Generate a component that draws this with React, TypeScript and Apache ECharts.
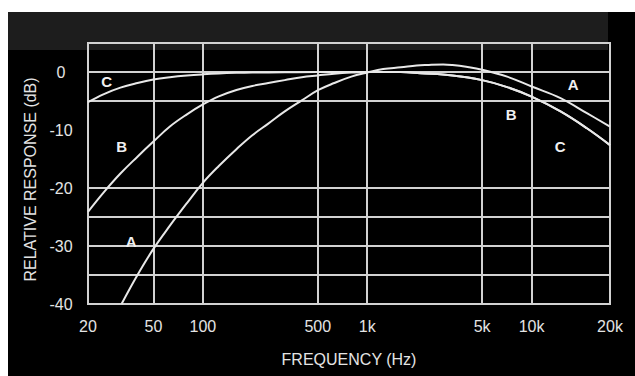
import React, { useEffect, useRef } from "react";
import * as echarts from "echarts";

// Tick positions (Hz) and labels as drawn. The drawing's right edge is labelled "20k",
// but it sits ~0.48 decade beyond 10k on the drawn scale.
const xTickHz = [20, 50, 100, 500, 1000, 5000, 10000, 30000];
const xTickLabels = ["20", "50", "100", "500", "1k", "5k", "10k", "20k"];
const yGridDb = [5, 0, -5, -20, -25, -30, -35, -40];
const yLabelDb = [0, -10, -20, -30, -40];

const freqA = [32, 40, 50, 63, 80, 100, 125, 160, 200, 250, 315, 400, 505, 630, 800, 1000, 1250, 1600, 2000, 2300, 2900, 3300, 4000, 5000, 7100, 10000, 15000, 21700, 30000];
const dbA = [-40, -35, -30.5, -26.5, -22.6, -19.1, -16.2, -13.3, -10.9, -8.9, -6.8, -4.9, -3.1, -1.9, -0.8, -0.1, 0.5, 0.8, 1.1, 1.2, 1.3, 1.2, 0.9, 0.4, -0.8, -2.5, -4.5, -7.1, -9.4];

const freqB = [20, 25, 31.5, 40, 50, 63, 80, 100, 125, 160, 200, 250, 315, 400, 500, 630, 800, 1000, 1250, 1600, 2100, 3300, 5000, 7100, 10000, 15000, 21700, 30000];
const dbB = [-24.1, -20.7, -17.5, -14.6, -12.0, -9.4, -7.3, -5.6, -4.2, -3.1, -2.4, -1.9, -1.4, -0.9, -0.6, -0.3, -0.1, 0, 0, 0, -0.2, -0.6, -1.4, -2.6, -4.25, -6.8, -9.7, -12.6];

const freqC = [20, 25, 31.5, 40, 50, 63, 80, 100, 125, 160, 200, 315, 500, 1000, 1600, 2100, 3300, 5000, 7100, 10000, 15000, 21700, 30000];
const dbC = [-5.2, -3.8, -2.7, -1.9, -1.3, -0.9, -0.6, -0.4, -0.25, -0.15, -0.1, -0.05, 0, 0, 0, -0.2, -0.6, -1.4, -2.6, -4.25, -6.8, -9.7, -12.6];

const curveLetters = ["C", "B", "A", "A", "B", "C"];
const curveLetterHz = [26, 32, 36.6, 17900, 7500, 14900];
const curveLetterDb = [-1.7, -12.8, -29.3, -2.1, -7.4, -12.8];

const FONT = "'Liberation Sans', Arial, Helvetica, sans-serif";
const TEXT = "#e4e4e4";
const GRID = "#d2d2d2";
const CURVE = "#e8e8e8";

const lg = (f: number) => Math.log10(f);

export default function App() {
  const ref = useRef<HTMLDivElement>(null);

  useEffect(() => {
    if (!ref.current) return;
    const chart = echarts.init(ref.current, undefined, { renderer: "svg" });
    const xMin = lg(xTickHz[0]);
    const xMax = lg(xTickHz[xTickHz.length - 1]);
    const xTickLog = xTickHz.map(lg);
    const xLabelFor = (v: number) => {
      let best = 0;
      for (let i = 0; i < xTickLog.length; i++) {
        if (Math.abs(xTickLog[i] - v) < Math.abs(xTickLog[best] - v)) best = i;
      }
      return xTickLabels[best];
    };
    const mk = (fs: number[], ds: number[]) => fs.map((f, i) => [lg(f), ds[i]]);
    const curve = (name: string, fs: number[], ds: number[]) => ({
      name,
      type: "line",
      data: mk(fs, ds),
      showSymbol: false,
      smooth: 0.4,
      lineStyle: { color: CURVE, width: 2 },
      z: 3,
    });

    chart.setOption({
      animation: false,
      backgroundColor: "#000",
      graphic: [
        { type: "rect", z: -10, shape: { x: 0, y: 0, width: 635, height: 12 }, style: { fill: "#ffffff" } },
        { type: "rect", z: -10, shape: { x: 0, y: 0, width: 8, height: 376 }, style: { fill: "#ffffff" } },
        { type: "rect", z: -10, shape: { x: 8, y: 12, width: 600, height: 38 }, style: { fill: "#1d1d1d" } },
      ],
      grid: {
        left: 88,
        right: 25,
        top: 43,
        bottom: 72,
        show: true,
        borderColor: GRID,
        borderWidth: 2,
        backgroundColor: "transparent",
      },
      xAxis: {
        type: "value",
        min: xMin,
        max: xMax,
        name: "FREQUENCY (Hz)",
        nameLocation: "middle",
        nameGap: 47,
        nameTextStyle: { color: TEXT, fontSize: 16, fontFamily: FONT },
        axisLine: { show: false },
        axisTick: { show: false, customValues: xTickLog },
        axisLabel: {
          customValues: xTickLog,
          formatter: (v: number) => xLabelFor(v),
          color: TEXT,
          fontSize: 16,
          fontFamily: FONT,
          margin: 14,
        },
        splitLine: { show: true, lineStyle: { color: GRID, width: 2 } },
      },
      yAxis: {
        type: "value",
        min: -40,
        max: 5,
        interval: 5,
        name: "RELATIVE RESPONSE (dB)",
        nameLocation: "middle",
        nameGap: 48,
        nameTextStyle: { color: TEXT, fontSize: 16, fontFamily: FONT, padding: [0, 12, 0, 0] },
        axisLine: { show: false },
        axisTick: { show: false, customValues: yGridDb },
        axisLabel: {
          customValues: yLabelDb,
          color: TEXT,
          fontSize: 16,
          fontFamily: FONT,
          align: "center",
          margin: 27,
        },
        splitLine: { show: true, lineStyle: { color: GRID, width: 2 } },
      },
      series: [
        curve("A", freqA, dbA),
        curve("B", freqB, dbB),
        curve("C", freqC, dbC),
        {
          name: "letters",
          type: "scatter",
          symbolSize: 1,
          itemStyle: { color: "transparent", opacity: 1 },
          data: curveLetters.map((l, i) => [lg(curveLetterHz[i]), curveLetterDb[i], l]),
          label: {
            show: true,
            position: "inside",
            formatter: (p: any) => p.data[2],
            color: "#f0f0f0",
            opacity: 1,
            fontSize: 15,
            fontWeight: "bold",
            fontFamily: FONT,
          },
          z: 4,
        },
      ],
    });
    return () => chart.dispose();
  }, []);

  return (
    <div
      ref={ref}
      style={{ position: "absolute", left: 0, top: 0, width: 635, height: 376 }}
    />
  );
}
